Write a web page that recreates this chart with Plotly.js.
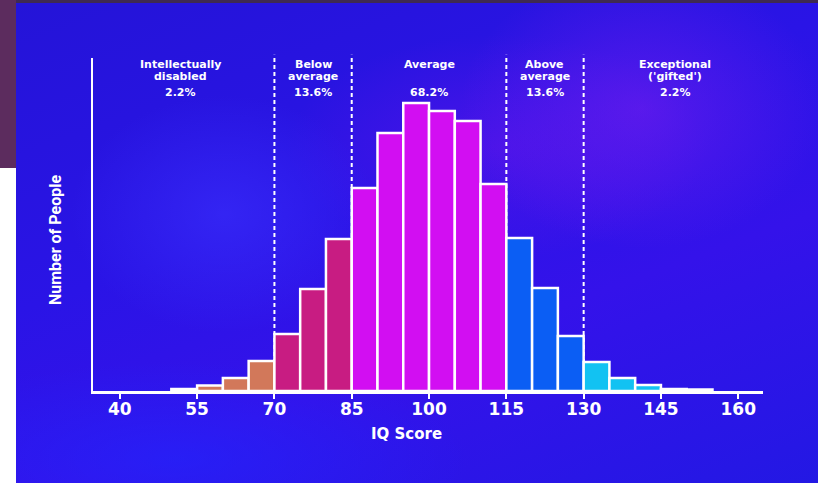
<!DOCTYPE html>
<html>
<head>
<meta charset="utf-8">
<script src="https://cdn.plot.ly/plotly-3.0.1.min.js"></script>
<style>
  html, body { margin: 0; padding: 0; width: 818px; height: 483px; overflow: hidden; background: #ffffff; }
  #frame { position: absolute; left: 0; top: 0; width: 818px; height: 483px; }
  #strip-top { position: absolute; left: 0; top: 0; width: 818px; height: 3px; background: #3f2a52; }
  #strip-left { position: absolute; left: 0; top: 0; width: 16px; height: 168px; background: #5c2c5e; }
  #panel {
    position: absolute; left: 16px; top: 3px; width: 802px; height: 480px;
    background:
      radial-gradient(ellipse 260px 200px at 78% 22%, rgba(120, 30, 240, 0.55), rgba(120, 30, 240, 0) 70%),
      radial-gradient(ellipse 220px 170px at 26% 44%, rgba(60, 50, 255, 0.55), rgba(60, 50, 255, 0) 70%),
      radial-gradient(ellipse 300px 160px at 60% 30%, rgba(110, 20, 235, 0.45), rgba(110, 20, 235, 0) 70%),
      radial-gradient(ellipse 420px 140px at 20% 95%, rgba(30, 40, 255, 0.55), rgba(30, 40, 255, 0) 70%),
      linear-gradient(160deg, #2414d8 0%, #2a14e6 40%, #3412ea 65%, #2318e4 100%);
  }
  #chart { position: absolute; left: 0; top: 0; width: 818px; height: 483px; }
</style>
</head>
<body>
<div id="frame">
  <div id="strip-top"></div>
  <div id="strip-left"></div>
  <div id="panel"></div>
  <div id="chart"></div>
</div>
<script>
// IQ score bins (left edge of each 5-point bin) and relative number of people
const binStarts = [50, 55, 60, 65, 70, 75, 80, 85, 90, 95, 100, 105, 110, 115, 120, 125, 130, 135, 140, 145, 150];
const counts    = [2, 5.5, 13, 30, 57, 102, 152, 203, 258, 288, 280, 270, 207, 153, 103, 55, 29, 13, 6, 2, 1.5];
const binWidth = 5;

// Band boundaries (dashed separators) and band labels
const cutPoints = [70, 85, 115, 130];
const bandNames = ["Intellectually<br>disabled", "Below<br>average", "Average", "Above<br>average", "Exceptional<br>('gifted')"];
const bandShares = ["2.2%", "13.6%", "68.2%", "13.6%", "2.2%"];
const bandCenters = [51.8, 77.5, 100, 122.5, 147.8];

const tickValues = [40, 55, 70, 85, 100, 115, 130, 145, 160];

// colour for each band, outermost tails drawn as white slivers
const bandColors = ["#d2785a", "#c81c82", "#d20ef2", "#0b5ef4", "#12c2f2"];
function colorFor(start) {
  if (start < 55 || start >= 145) return "#ffffff";
  let band = 0;
  for (const c of cutPoints) if (start >= c) band++;
  return bandColors[band];
}

const xCenters = binStarts.map(s => s + binWidth / 2);

const trace = {
  type: "bar",
  x: xCenters,
  y: counts,
  width: binStarts.map(() => binWidth),
  marker: {
    color: binStarts.map(colorFor),
    line: { color: "#ffffff", width: 2.5 }
  },
  hoverinfo: "x+y"
};

const wide = "DejaVu Sans, Verdana, sans-serif";
const W = 818, H = 483;
const plotTop = 58, plotBottom = 391;
const plotLeft = 93, plotRight = 763;

const shapes = cutPoints.map(c => ({
  type: "line", xref: "x", yref: "paper",
  x0: c, x1: c, y0: 0, y1: 1.01,
  line: { color: "#ffffff", width: 2, dash: "4px,3px" },
  layer: "below"
}));

// pixel row -> paper coordinate helpers
const py = px => (plotBottom - px) / (plotBottom - plotTop);
const pxX = px => (px - plotLeft) / (plotRight - plotLeft);

const labelFont = { family: wide, size: 11, color: "#ffffff", weight: 700 };
const annotations = [];
bandNames.forEach((name, i) => {
  const lines = name.split("<br>");
  lines.forEach((line, j) => {
    annotations.push({
      x: bandCenters[i], xref: "x",
      y: py(64 + j * 12), yref: "paper", yanchor: "middle",
      text: line, showarrow: false, font: labelFont
    });
  });
  annotations.push({
    x: bandCenters[i], xref: "x",
    y: py(93), yref: "paper", yanchor: "middle",
    text: bandShares[i], showarrow: false, font: labelFont
  });
});

// axis titles
annotations.push({
  x: pxX(406), xref: "paper", y: py(434), yref: "paper",
  xanchor: "center", yanchor: "middle",
  text: "IQ Score", showarrow: false,
  font: { family: wide, size: 15, color: "#ffffff", weight: 700 }
});
annotations.push({
  x: pxX(55), xref: "paper", y: py(240), yref: "paper",
  xanchor: "center", yanchor: "middle", textangle: -90,
  text: "Number of People", showarrow: false,
  font: { family: "Liberation Sans Narrow, Roboto, sans-serif", size: 16, color: "#ffffff", weight: 700 }
});

const layout = {
  width: W, height: H,
  margin: { l: plotLeft, r: W - plotRight, t: plotTop, b: H - plotBottom },
  paper_bgcolor: "rgba(0,0,0,0)",
  plot_bgcolor: "rgba(0,0,0,0)",
  bargap: 0,
  showlegend: false,
  xaxis: {
    range: [34.8, 164.8],
    tickvals: tickValues,
    ticktext: tickValues.map(String),
    showline: true, linecolor: "#ffffff", linewidth: 2.5,
    ticks: "outside", ticklen: 5, tickwidth: 2, tickcolor: "#ffffff",
    ticklabelstandoff: -4,
    showgrid: false, zeroline: false,
    tickfont: { family: wide, size: 17, color: "#ffffff", weight: 700 },
    fixedrange: true
  },
  yaxis: {
    range: [0, 333],
    showline: true, linecolor: "#ffffff", linewidth: 2,
    showticklabels: false, ticks: "",
    showgrid: false, zeroline: false,
    fixedrange: true
  },
  shapes: shapes,
  annotations: annotations
};

Plotly.newPlot("chart", [trace], layout, { displayModeBar: false, staticPlot: true });
</script>
</body>
</html>
